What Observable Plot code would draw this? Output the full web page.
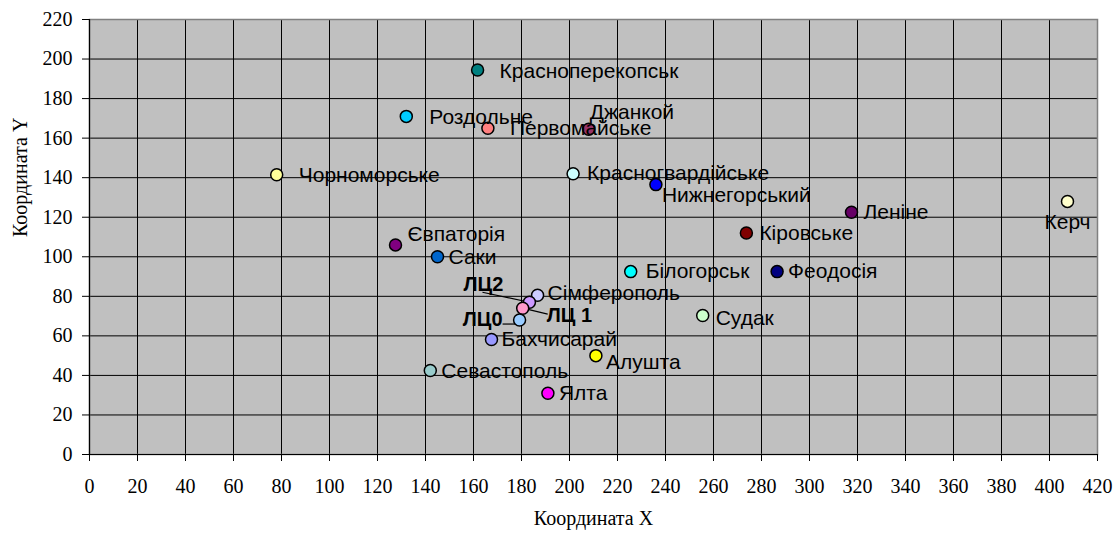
<!DOCTYPE html>
<html>
<head>
<meta charset="utf-8">
<script src="https://cdn.jsdelivr.net/npm/d3@7"></script>
<script src="https://cdn.jsdelivr.net/npm/@observablehq/plot@0.6"></script>
<style>
  html, body { margin: 0; padding: 0; background: #fff; }
</style>
</head>
<body>
<div id="chart"></div>
<script>
// ---- data ----
const names = ["Красноперекопськ","Роздольне","Первомайське","Джанкой","Чорноморське",
  "Красногвардійське","Нижнегорський","Леніне","Керч","Кіровське","Євпаторія","Саки",
  "Білогорськ","Феодосія","Сімферополь","ЛЦ2","ЛЦ 1","ЛЦ0","Бахчисарай","Алушта",
  "Севастополь","Ялта","Судак"];
const xValues = [161.7,132,166,208,78,201.5,236,317.5,407.5,273.7,127.5,145,225.5,286.5,186.7,183.3,180.5,179.2,167.5,211,142,191,255.5];
const yValues = [194.5,171,165,164.5,141.5,142,136.5,122.5,128,112,106,100,92.5,92.5,80.5,77,74,68,58.2,50,42.5,31,70.3];
const xTicks = d3.range(0, 421, 20);
const yTicks = d3.range(0, 221, 20);

// ---- styles ----
const palette = ["#008080","#00ccff","#ff8080","#993366","#ffff99","#ccffff","#0000ff","#660066",
  "#ffffcc","#800000","#800080","#0066cc","#00ffff","#000080","#ccccff","#cc99ff","#ff99cc",
  "#99ccff","#9999ff","#ffff00","#99cccc","#ff00ff","#ccffcc"];
// label offsets in pixels: [dx, dy, anchor, bold]
const labelLayout = {
  "Красноперекопськ":[22,1,"start"], "Роздольне":[23,1,"start"], "Первомайське":[22,0,"start"],
  "Джанкой":[1,-17,"start"], "Чорноморське":[22,1,"start"], "Красногвардійське":[14,0,"start"],
  "Нижнегорський":[6,11,"start"], "Леніне":[12,0,"start"], "Керч":[0,21,"middle"],
  "Кіровське":[13,0,"start"], "Євпаторія":[12,-11,"start"], "Саки":[11,0,"start"],
  "Білогорськ":[15,0,"start"], "Феодосія":[11,0,"start"], "Сімферополь":[10,-2,"start"],
  "ЛЦ2":[-46,-18,"middle",true], "ЛЦ 1":[24,7,"start",true], "ЛЦ0":[-17,0,"end",true],
  "Бахчисарай":[10,0,"start"], "Алушта":[10,7,"start"], "Севастополь":[11,1,"start"],
  "Ялта":[11,0,"start"], "Судак":[13,3,"start"]
};
// leader lines in pixel offsets from point: [x1, y1, x2, y2]
const leaders = { "ЛЦ2":[-47,-10,0,0], "ЛЦ 1":[0,0,25,6], "ЛЦ0":[-17,4,-4,4] };

const W = 1114, H = 533, mL = 89, mR = 17, mT = 19, mB = 79;
const kx = (W - mL - mR) / 420, ky = (H - mT - mB) / 220;

const data = names.map((n, i) => ({name: n, x: xValues[i], y: yValues[i], color: palette[i]}));

const labelFont = "'Liberation Sans', Arial, sans-serif";
const serif = "'Liberation Serif', 'Times New Roman', serif";

const textMarks = data.map(d => {
  const [dx, dy, anchor, bold] = labelLayout[d.name];
  return Plot.text([d], {x: "x", y: "y", text: "name", dx, dy, textAnchor: anchor,
    fontSize: bold ? 20 : 21, fontFamily: labelFont, fontWeight: bold ? "bold" : "normal", fill: "#000"});
});

const leaderData = data.filter(d => leaders[d.name]).map(d => {
  const [a, b, c, e] = leaders[d.name];
  return {x1: d.x + a / kx, y1: d.y - b / ky, x2: d.x + c / kx, y2: d.y - e / ky};
});

const chart = Plot.plot({
  width: W, height: H,
  marginLeft: mL, marginRight: mR, marginTop: mT, marginBottom: mB,
  style: {background: "#fff", color: "#000", overflow: "visible"},
  x: {domain: [0, 420]},
  y: {domain: [0, 220]},
  marks: [
    Plot.frame({fill: "#c0c0c0", stroke: "none"}),
    Plot.ruleX(xTicks.filter(t => t > 0 && t < 420), {stroke: "#000", strokeWidth: 1}),
    Plot.ruleY(yTicks.filter(t => t > 0 && t < 220), {stroke: "#000", strokeWidth: 1}),
    Plot.frame({stroke: "#808080", strokeWidth: 1.5}),
    Plot.ruleX([0], {stroke: "#000", strokeWidth: 1.2}),
    Plot.ruleY([0], {stroke: "#000", strokeWidth: 1.2}),
    Plot.axisX({ticks: xTicks, tickSize: 7, tickPadding: 17, fontSize: 20, fontFamily: serif, label: null}),
    Plot.axisY({ticks: yTicks, tickSize: 7, tickPadding: 10, fontSize: 20, fontFamily: serif, label: null}),
    Plot.link(leaderData, {x1: "x1", y1: "y1", x2: "x2", y2: "y2", stroke: "#000", strokeWidth: 1.2}),
    Plot.dot(data, {x: "x", y: "y", r: 6, fill: "color", stroke: "#000", strokeWidth: 1.5}),
    ...textMarks,
    Plot.text(["Координата X"], {frameAnchor: "bottom", dy: 70, fontSize: 20, fontFamily: serif, fill: "#000"}),
    Plot.text(["Координата Y"], {frameAnchor: "left", dx: -69, rotate: -90, fontSize: 20, fontFamily: serif, fill: "#000"})
  ]
});
document.getElementById("chart").appendChild(chart);
</script>
</body>
</html>
